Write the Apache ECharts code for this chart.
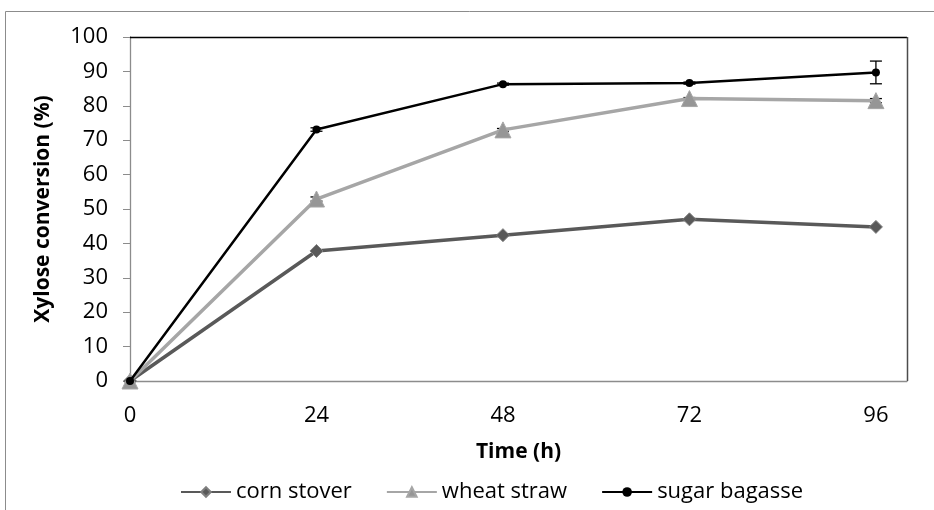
<!DOCTYPE html>
<html><head><meta charset="utf-8">
<script src="https://cdn.jsdelivr.net/npm/echarts@6/dist/echarts.min.js"></script>
<style>html,body{margin:0;padding:0;background:#fff}#c{width:934px;height:510px}</style>
</head><body><div id="c"></div>
<script>
var times = [0, 24, 48, 72, 96];
var cornStover = [0, 37.8, 42.4, 47.0, 44.8];
var wheatStraw = [0, 52.9, 73.0, 82.1, 81.5];
var sugarBagasse = [0, 73.1, 86.3, 86.6, 89.7];
var sugarErr = [0, 0.5, 0.3, 0.3, 3.3];
var wheatErr = [0, 0.6, 0.4, 0.3, 0.6];
var seriesNames = ['corn stover', 'wheat straw', 'sugar bagasse'];
var xTicks = [0, 24, 48, 72, 96];

var font = '"Open Sans", "Liberation Sans", sans-serif';
function pairs(v){ return times.map(function(t,i){ return [t, v[i]]; }); }
function errData(v, e){ return times.map(function(t,i){ return [t, v[i]-e[i], v[i]+e[i]]; }); }
function errSeries(v, e){
  return {
    type: 'custom', silent: true, z: 1,
    data: errData(v, e),
    renderItem: function(params, api){
      var lo = api.coord([api.value(0), api.value(1)]);
      var hi = api.coord([api.value(0), api.value(2)]);
      var w = 6;
      var st = {stroke: '#000', lineWidth: 1.3};
      return {type: 'group', children: [
        {type: 'line', shape: {x1: lo[0], y1: lo[1], x2: hi[0], y2: hi[1]}, style: st},
        {type: 'line', shape: {x1: lo[0]-w, y1: lo[1], x2: lo[0]+w, y2: lo[1]}, style: st},
        {type: 'line', shape: {x1: hi[0]-w, y1: hi[1], x2: hi[0]+w, y2: hi[1]}, style: st}
      ]};
    }
  };
}
var chart = echarts.init(document.getElementById('c'), null, {renderer: 'canvas'});
chart.setOption({
  animation: false,
  backgroundColor: '#fff',
  graphic: [
    {type: 'polyline', shape: {points: [[5.5, 510], [5.5, 11.5], [934, 11.5]]}, style: {stroke: '#8c8c8c', lineWidth: 1, fill: null}},
    {type: 'line', shape: {x1: 130, y1: 37.5, x2: 907, y2: 37.5}, style: {stroke: '#000', lineWidth: 1.3}, z: 10},
    {type: 'line', shape: {x1: 907.5, y1: 37, x2: 907.5, y2: 381}, style: {stroke: '#4d4d4d', lineWidth: 1.5}, z: 10}
  ],
  grid: {left: 130, right: 27, top: 37, bottom: 129, containLabel: false},
  xAxis: {
    type: 'value', min: 0, max: 100, interval: 24,
    name: 'Time (h)', nameLocation: 'middle', nameGap: 61,
    nameTextStyle: {fontFamily: font, fontSize: 21, fontWeight: 'bold', color: '#000'},
    axisLine: {show: true, lineStyle: {color: '#8c8c8c', width: 1.3}},
    axisTick: {show: false},
    splitLine: {show: false},
    axisLabel: {fontFamily: font, fontSize: 22, color: '#000', margin: 24, showMaxLabel: false,
      formatter: function(v){ return xTicks.indexOf(v) >= 0 ? String(v) : ''; }}
  },
  yAxis: {
    type: 'value', min: 0, max: 100, interval: 10,
    name: 'Xylose conversion (%)', nameLocation: 'middle', nameGap: 76,
    nameTextStyle: {fontFamily: font, fontSize: 21, fontWeight: 'bold', color: '#000'},
    axisLine: {show: true, lineStyle: {color: '#8c8c8c', width: 1.3}},
    axisTick: {show: true, inside: false, length: 7, lineStyle: {color: '#8c8c8c'}},
    splitLine: {show: false},
    axisLabel: {fontFamily: font, fontSize: 22, color: '#000', margin: 22}
  },
  legend: {
    bottom: 2, left: 175, itemGap: 34, itemWidth: 50, itemHeight: 12,
    textStyle: {fontFamily: font, fontSize: 22, color: '#000'},
    data: seriesNames
  },
  series: [
    {name: seriesNames[0], type: 'line', data: pairs(cornStover), symbol: 'diamond', symbolSize: 13,
      lineStyle: {color: '#595959', width: 3.5}, itemStyle: {color: '#595959', borderColor: '#7f7f7f', borderWidth: 1}, z: 3},
    {name: seriesNames[1], type: 'line', data: pairs(wheatStraw), symbol: 'triangle', symbolSize: 16,
      lineStyle: {color: '#a6a6a6', width: 3.5}, itemStyle: {color: '#969696', borderColor: '#a6a6a6', borderWidth: 1}, z: 3},
    {name: seriesNames[2], type: 'line', data: pairs(sugarBagasse), symbol: 'circle', symbolSize: 8,
      lineStyle: {color: '#000', width: 2.5}, itemStyle: {color: '#000'}, z: 4},
    errSeries(wheatStraw, wheatErr),
    errSeries(sugarBagasse, sugarErr)
  ]
});
</script></body></html>
